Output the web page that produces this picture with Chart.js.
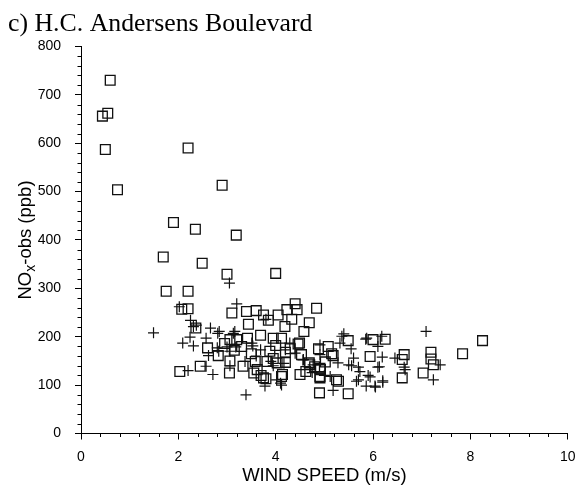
<!DOCTYPE html>
<html>
<head>
<meta charset="utf-8">
<script src="https://cdn.jsdelivr.net/npm/chart.js@4"></script>
<style>
  html, body { margin: 0; padding: 0; background: #fff; overflow: hidden; }
  #wrap { width: 577px; height: 488px; }
</style>
</head>
<body>
<div id="wrap"><canvas id="c"></canvas></div>
<script>
// ---- Data ----
const chartTitle = 'c) H.C. Andersens Boulevard';
const xTitle = 'WIND SPEED (m/s)';

// open squares
const windSquares = [
  0.60, 0.55, 0.44, 0.50, 2.20, 0.75, 2.90, 1.90, 2.35, 3.19, 1.69, 2.49, 3.00, 4.00, 1.75, 2.20, 2.07, 2.20,
  3.10, 3.40, 3.60, 3.75, 3.85, 4.05, 4.23, 3.44, 2.36, 3.06, 3.20, 3.42, 3.69, 3.95, 4.12, 2.60, 2.82, 3.06,
  3.33, 3.58, 3.82, 4.03, 4.20, 2.03, 2.45, 3.05, 3.55, 3.80, 4.14, 4.84, 4.40, 4.44, 4.33, 4.69, 4.58, 4.19,
  4.49, 4.53, 4.70, 4.80, 4.91, 4.92, 4.88, 5.08, 5.18, 5.49, 5.29, 4.90, 5.49, 5.94, 6.00, 6.25, 6.64, 6.60,
  6.60, 7.19, 7.19, 7.24, 7.03, 7.84, 8.25, 3.88, 4.20, 3.75, 4.12, 4.50, 4.91, 5.25, 4.69, 4.91, 5.15, 4.46,
  3.70, 3.95, 3.30, 3.50, 4.30, 4.00, 3.15, 3.62, 4.62, 5.02, 2.95
];
const noxSquares = [
  730, 662, 656, 587, 590, 504, 513, 436, 422, 410, 365, 352, 329, 331, 294, 294, 257, 258,
  249, 252, 254, 245, 234, 245, 256, 226, 218, 194, 194, 197, 203, 197, 197, 177, 161, 150,
  139, 149, 149, 146, 147, 128, 139, 125, 125, 113, 122, 259, 268, 256, 236, 229, 211, 221,
  187, 163, 142, 138, 118, 132, 175, 180, 161, 192, 108, 84, 82, 159, 194, 195, 163, 153,
  115, 168, 154, 142, 125, 165, 192, 170, 168, 115, 118, 122, 115, 111, 146, 135, 165, 185,
  120, 155, 180, 165, 175, 182, 172, 132, 128, 148, 186
];

// plus signs
const windPlus = [
  3.05, 2.02, 3.20, 3.80, 2.25, 2.31, 1.49, 2.66, 2.84, 3.16, 2.24, 2.57, 2.09, 2.31, 3.53, 2.80, 3.00, 3.18,
  3.69, 2.62, 3.06, 3.90, 3.95, 2.20, 2.57, 2.71, 4.02, 4.10, 3.39, 2.37, 2.81, 3.13, 3.51, 2.83, 3.06, 3.37,
  4.29, 4.20, 4.57, 4.91, 5.32, 5.40, 5.60, 5.56, 5.18, 5.12, 5.66, 5.73, 5.90, 5.86, 6.04, 6.20, 6.13, 5.87,
  6.18, 6.10, 6.45, 6.66, 7.09, 7.38, 7.24, 4.91, 5.36, 4.17, 4.56, 4.77, 3.78, 4.12, 5.00, 5.85, 6.19, 5.50,
  5.70, 6.10, 5.94, 5.70, 6.05, 6.20, 6.64, 5.55, 4.40, 4.75, 3.60, 5.28
];
const noxPlus = [
  311, 262, 268, 236, 234, 221, 208, 218, 211, 211, 199, 197, 187, 181, 181, 177, 179, 179,
  173, 161, 140, 149, 140, 130, 139, 122, 111, 104, 80, 224, 207, 207, 187, 170, 170, 149,
  187, 173, 153, 163, 187, 206, 156, 140, 89, 118, 108, 128, 120, 98, 98, 106, 138, 197,
  201, 180, 156, 132, 211, 142, 111, 183, 201, 145, 152, 142, 98, 100, 120, 195, 158, 142,
  137, 137, 117, 111, 96, 109, 137, 175, 166, 126, 160, 146
];

const toPoints = (xs, ys) => xs.map((v, i) => ({ x: v, y: ys[i] }));

const AXIS_FONT = '"Liberation Sans", Arial, Helvetica, sans-serif';

// ---- Minor tick marks (outside the plot, like the original) ----
const minorTicks = {
  id: 'minorTicks',
  afterDraw(chart) {
    const { ctx, scales: { x, y } } = chart;
    ctx.save();
    ctx.strokeStyle = '#000';
    ctx.lineWidth = 1;
    ctx.beginPath();
    for (let i = 1; i < 25; i++) {
      if (i % 5 === 0) continue;
      const px = Math.round(x.getPixelForValue(i * 0.4)) + 0.5;
      ctx.moveTo(px, y.bottom);
      ctx.lineTo(px, y.bottom + 3.5);
    }
    for (let i = 1; i < 40; i++) {
      if (i % 5 === 0) continue;
      const py = Math.round(y.getPixelForValue(i * 20)) + 0.5;
      ctx.moveTo(x.left, py);
      ctx.lineTo(x.left - 3.5, py);
    }
    ctx.stroke();
    ctx.restore();
  }
};

// ---- Y axis title with subscript x ----
const yTitle = {
  id: 'yTitle',
  afterDraw(chart) {
    const { ctx, chartArea } = chart;
    const big = '18.5px ' + AXIS_FONT;
    const small = '14px ' + AXIS_FONT;
    const parts = [
      { t: 'NO', f: big, dy: 0 },
      { t: 'x', f: small, dy: 4 },
      { t: '-obs (ppb)', f: big, dy: 0 }
    ];
    ctx.save();
    let total = 0;
    for (const p of parts) { ctx.font = p.f; p.w = ctx.measureText(p.t).width; total += p.w; }
    ctx.translate(30.5, (chartArea.top + chartArea.bottom) / 2);
    ctx.rotate(-Math.PI / 2);
    ctx.fillStyle = '#000';
    ctx.textBaseline = 'alphabetic';
    ctx.textAlign = 'left';
    let cx = -total / 2;
    for (const p of parts) {
      ctx.font = p.f;
      ctx.fillText(p.t, cx, p.dy);
      cx += p.w;
    }
    ctx.restore();
  }
};

const config = {
  type: 'scatter',
  data: {
    datasets: [
      {
        label: 'squares',
        data: toPoints(windSquares, noxSquares),
        pointStyle: 'rect',
        pointRadius: 6.9,
        borderColor: '#111',
        backgroundColor: 'rgba(0,0,0,0)',
        borderWidth: 1.3
      },
      {
        label: 'plus',
        data: toPoints(windPlus, noxPlus),
        pointStyle: 'cross',
        pointRadius: 5.5,
        borderColor: '#111',
        backgroundColor: 'rgba(0,0,0,0)',
        borderWidth: 1.2
      }
    ]
  },
  options: {
    responsive: true,
    maintainAspectRatio: false,
    animation: false,
    layout: { padding: { left: 8, right: 9.3, top: 0, bottom: 0 } },
    plugins: {
      legend: { display: false },
      tooltip: { enabled: false },
      title: {
        display: true,
        text: chartTitle,
        align: 'start',
        color: '#000',
        font: { family: '"Liberation Serif", "Times New Roman", Times, serif', size: 25.8, weight: 'normal' },
        padding: { top: 8.5, bottom: 7 }
      }
    },
    scales: {
      x: {
        type: 'linear',
        min: 0,
        max: 10,
        afterFit: (scale) => { scale.height = 54.5; scale.paddingLeft = 0; scale.paddingRight = 0; },
        ticks: { stepSize: 2, color: '#000', padding: 9, font: { family: AXIS_FONT, size: 14 } },
        grid: { drawOnChartArea: false, drawTicks: true, tickLength: 6, tickColor: '#000', tickWidth: 1 },
        border: { display: true, color: '#000', width: 1 },
        title: {
          display: true,
          text: xTitle,
          color: '#000',
          font: { family: AXIS_FONT, size: 18.5 },
          padding: { top: 0, bottom: 1 }
        }
      },
      y: {
        type: 'linear',
        min: 0,
        max: 800,
        afterFit: (scale) => { scale.width = 73; scale.paddingTop = 0; scale.paddingBottom = 0; },
        ticks: { stepSize: 100, color: '#000', padding: 14, font: { family: AXIS_FONT, size: 14 } },
        grid: { drawOnChartArea: false, drawTicks: true, tickLength: 6, tickColor: '#000', tickWidth: 1 },
        border: { display: true, color: '#000', width: 1 }
      }
    }
  },
  plugins: [minorTicks, yTitle]
};

new Chart(document.getElementById('c').getContext('2d'), config);
</script>
</body>
</html>
